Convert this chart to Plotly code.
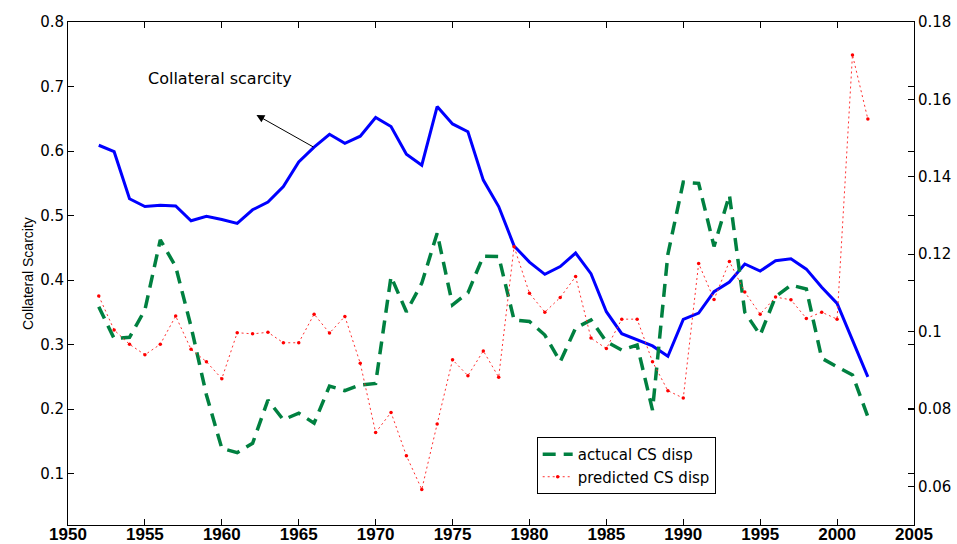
import plotly.graph_objects as go

years = list(range(1952, 2003))

collateral_scarcity = [
    0.609, 0.599, 0.526, 0.514, 0.516, 0.515, 0.492, 0.499, 0.494, 0.488,
    0.509, 0.521, 0.545, 0.583, 0.606, 0.626, 0.612, 0.623, 0.652, 0.638,
    0.595, 0.578, 0.669, 0.642, 0.630, 0.555, 0.514, 0.453, 0.428, 0.409,
    0.421, 0.442, 0.410, 0.351, 0.317, 0.307, 0.298, 0.282, 0.339, 0.349,
    0.382, 0.397, 0.425, 0.414, 0.430, 0.433, 0.417, 0.389, 0.364, 0.307,
    0.250,
]

actual_cs_disp = [
    0.1064, 0.0982, 0.0985, 0.1056, 0.1237, 0.1168, 0.1013, 0.0836, 0.0698, 0.0687,
    0.0711, 0.0823, 0.0772, 0.0789, 0.0763, 0.0859, 0.0847, 0.0862, 0.0866, 0.1142,
    0.1051, 0.1125, 0.1254, 0.1069, 0.1100, 0.1195, 0.1194, 0.1030, 0.1026, 0.0991,
    0.0922, 0.1009, 0.1030, 0.0974, 0.0952, 0.0965, 0.0797, 0.1200, 0.1386, 0.1383,
    0.1220, 0.1353, 0.1050, 0.0991, 0.1090, 0.1120, 0.1110, 0.0931, 0.0909, 0.0888,
    0.0780,
]

predicted_cs_disp = [
    0.1092, 0.1004, 0.0967, 0.0940, 0.0967, 0.1040, 0.0954, 0.0922, 0.0878, 0.0997,
    0.0994, 0.0998, 0.0971, 0.0971, 0.1045, 0.0996, 0.1039, 0.0918, 0.0739, 0.0791,
    0.0679, 0.0592, 0.0761, 0.0927, 0.0886, 0.0950, 0.0882, 0.1219, 0.1099, 0.1050,
    0.1088, 0.1142, 0.0983, 0.0956, 0.1032, 0.1032, 0.0922, 0.0847, 0.0828, 0.1176,
    0.1083, 0.1181, 0.1102, 0.1045, 0.1089, 0.1082, 0.1034, 0.1050, 0.1032, 0.1715,
    0.1549,
]

x_ticks = [1950, 1955, 1960, 1965, 1970, 1975, 1980, 1985, 1990, 1995, 2000, 2005]
left_ticks = [0.1, 0.2, 0.3, 0.4, 0.5, 0.6, 0.7, 0.8]
left_labels = ["0.1", "0.2", "0.3", "0.4", "0.5", "0.6", "0.7", "0.8"]
right_ticks = [0.06, 0.08, 0.10, 0.12, 0.14, 0.16, 0.18]
right_labels = ["0.06", "0.08", "0.1", "0.12", "0.14", "0.16", "0.18"]

SANS = "Liberation Sans, Arial, Helvetica, sans-serif"
WIDE = "DejaVu Sans, Verdana, sans-serif"

fig = go.Figure()

fig.add_trace(go.Scatter(
    x=years, y=collateral_scarcity, mode="lines", name="Collateral scarcity",
    line=dict(color="#0000ff", width=3), showlegend=False, yaxis="y",
))
fig.add_trace(go.Scatter(
    x=years, y=actual_cs_disp, mode="lines", name="actucal CS disp",
    line=dict(color="#008040", width=3.5, dash="13px,8px"), yaxis="y2",
))
fig.add_trace(go.Scatter(
    x=years, y=predicted_cs_disp, mode="lines+markers", name="predicted CS disp",
    line=dict(color="#ff3030", width=1, dash="2px,3px"),
    marker=dict(color="#ff0000", size=3.5), yaxis="y2",
))

fig.update_layout(
    width=957, height=544,
    margin=dict(l=68, r=43, t=22, b=19, autoexpand=False),
    paper_bgcolor="white", plot_bgcolor="white",
    font=dict(family=SANS, size=14, color="black"),
    xaxis=dict(
        range=[1950, 2005], tickvals=x_ticks, ticks="inside", ticklen=6,
        tickcolor="black", showline=True, linecolor="black", linewidth=1,
        mirror="ticks", showgrid=False, zeroline=False, automargin=False,
        tickfont=dict(family=SANS, size=17, weight="bold"),
        ticklabelstandoff=-6,
    ),
    yaxis=dict(
        range=[0.0205, 0.8], tickvals=left_ticks, ticktext=left_labels,
        ticks="inside", ticklen=6, tickcolor="black", showline=True,
        linecolor="black", linewidth=1, mirror="ticks", showgrid=False,
        zeroline=False, automargin=False, tickfont=dict(family=WIDE, size=15),
    ),
    yaxis2=dict(
        range=[0.05, 0.18], tickvals=right_ticks, ticktext=right_labels,
        overlaying="y", side="right", ticks="inside", ticklen=6,
        tickcolor="black", showline=True, linecolor="black", linewidth=1,
        showgrid=False, zeroline=False, automargin=False,
        tickfont=dict(family=WIDE, size=15),
    ),
    legend=dict(
        x=0.554, y=0.175, xanchor="left", yanchor="top",
        bgcolor="white", bordercolor="black", borderwidth=1,
        font=dict(family=WIDE, size=15), tracegroupgap=0,
        itemwidth=30,
    ),
    annotations=[
        dict(text="Collateral scarcity", x=1959.9, y=0.713, xref="x", yref="y",
             showarrow=False, font=dict(family=WIDE, size=16)),
        dict(text="", x=1962.25, y=0.656, ax=1966.05, ay=0.605,
             xref="x", yref="y", axref="x", ayref="y",
             showarrow=True, arrowhead=2, arrowsize=1.6, arrowwidth=1,
             arrowcolor="black", standoff=0),
        dict(text="Collateral Scarcity", x=-0.0597, y=0.5, xref="paper", yref="paper",
             textangle=-90, showarrow=False,
             font=dict(family=SANS, size=14)),
    ],
)

fig.write_html(
    "out.html",
    config={"displayModeBar": False},
    post_script="document.body.style.margin='0';document.body.style.overflow='hidden';",
)
